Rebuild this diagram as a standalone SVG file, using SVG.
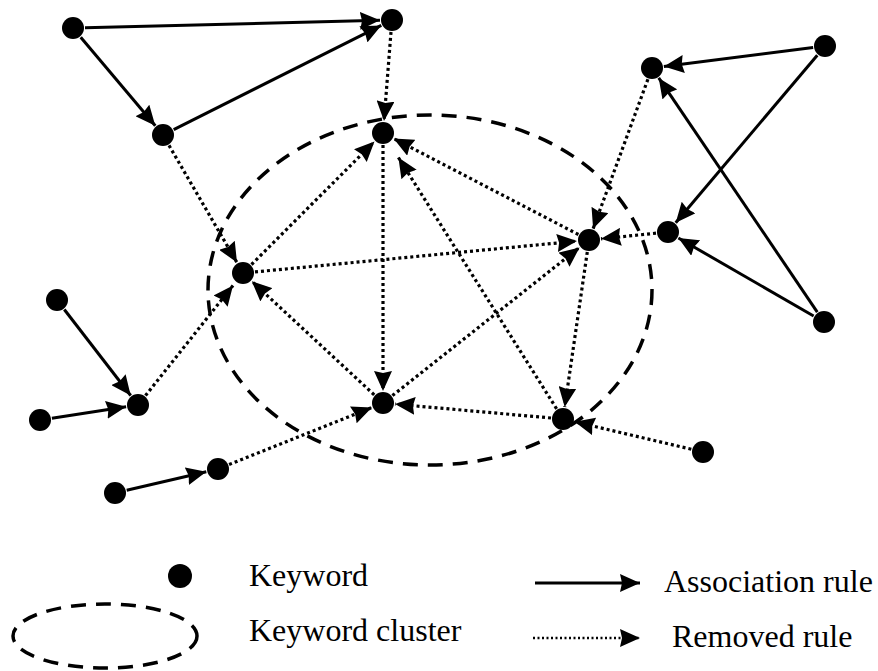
<svg xmlns="http://www.w3.org/2000/svg" width="878" height="671" viewBox="0 0 878 671">
<style>
.n{fill:#000}
.s{stroke:#000;stroke-width:3;fill:none;marker-end:url(#ah)}
.d{stroke:#000;stroke-width:3.2;stroke-dasharray:3 3;fill:none;marker-end:url(#ah)}
.cl{stroke:#000;stroke-width:3.5;stroke-dasharray:15 10;fill:none}
text{font-family:'Liberation Serif','Times New Roman',serif;font-size:32px;fill:#000}
</style>
<defs>
<marker id="ah" markerUnits="userSpaceOnUse" markerWidth="20" markerHeight="18" refX="20" refY="9" orient="auto">
<path d="M0,0 L20,9 L0,18 L2,9 z" fill="#000"/>
</marker>
</defs>
<ellipse id="cluster" class="cl" cx="430" cy="290" rx="222" ry="175"/>
<g id="connectors">
<line class="s" x1="85" y1="27.7" x2="380" y2="20.3"/>
<line class="s" x1="80.7" y1="37.2" x2="155.3" y2="125.8"/>
<line class="s" x1="173.7" y1="129.6" x2="381.3" y2="25.4"/>
<line class="s" x1="813.1" y1="47.5" x2="663.9" y2="66.5"/>
<line class="s" x1="817.3" y1="55.2" x2="675.7" y2="222.8"/>
<line class="s" x1="817.3" y1="312.1" x2="658.7" y2="77.9"/>
<line class="s" x1="813.6" y1="316" x2="678.4" y2="238"/>
<line class="s" x1="64.3" y1="309.5" x2="130.7" y2="395.5"/>
<line class="s" x1="51.9" y1="418.2" x2="126.1" y2="406.8"/>
<line class="s" x1="126.7" y1="490.3" x2="206.3" y2="471.7"/>
<line class="d" x1="391" y1="32" x2="384" y2="121"/>
<line class="d" x1="169" y1="145.4" x2="237" y2="262.6"/>
<line class="d" x1="251.5" y1="264.5" x2="374.5" y2="141.5"/>
<line class="d" x1="383" y1="145" x2="383" y2="391"/>
<line class="d" x1="578.4" y1="234.5" x2="393.6" y2="138.5"/>
<line class="d" x1="556.6" y1="408.8" x2="398.4" y2="157.5"/>
<line class="d" x1="255" y1="271.9" x2="577" y2="241.1"/>
<line class="d" x1="374.2" y1="394.8" x2="251.8" y2="281.2"/>
<line class="d" x1="145.5" y1="395.6" x2="233" y2="285.5"/>
<line class="d" x1="392.4" y1="395.6" x2="579.6" y2="247.4"/>
<line class="d" x1="551" y1="418" x2="395" y2="404.1"/>
<line class="d" x1="587.3" y1="251.9" x2="564.7" y2="407.1"/>
<line class="d" x1="656" y1="233.2" x2="601" y2="238.8"/>
<line class="d" x1="647.9" y1="79.3" x2="593.1" y2="228.7"/>
<line class="d" x1="691.3" y1="449.2" x2="574.7" y2="421.8"/>
<line class="d" x1="229.1" y1="464.5" x2="371.9" y2="407.5"/>
</g>
<g id="n1"><circle class="n" cx="73" cy="28" r="11"/></g>
<g id="n2"><circle class="n" cx="392" cy="20" r="11"/></g>
<g id="n3"><circle class="n" cx="163" cy="135" r="11"/></g>
<g id="n4"><circle class="n" cx="383" cy="133" r="11"/></g>
<g id="n5"><circle class="n" cx="652" cy="68" r="11"/></g>
<g id="n6"><circle class="n" cx="825" cy="46" r="11"/></g>
<g id="n7"><circle class="n" cx="589" cy="240" r="11"/></g>
<g id="n8"><circle class="n" cx="668" cy="232" r="11"/></g>
<g id="n9"><circle class="n" cx="243" cy="273" r="11"/></g>
<g id="n10"><circle class="n" cx="57" cy="300" r="11"/></g>
<g id="n11"><circle class="n" cx="824" cy="322" r="11"/></g>
<g id="n12"><circle class="n" cx="138" cy="405" r="11"/></g>
<g id="n13"><circle class="n" cx="40" cy="420" r="11"/></g>
<g id="n14"><circle class="n" cx="383" cy="403" r="11"/></g>
<g id="n15"><circle class="n" cx="563" cy="419" r="11"/></g>
<g id="n16"><circle class="n" cx="703" cy="452" r="11"/></g>
<g id="n17"><circle class="n" cx="218" cy="469" r="11"/></g>
<g id="n18"><circle class="n" cx="115" cy="493" r="11"/></g>
<g id="legend">
<circle class="n" cx="180" cy="576" r="12"/>
<text x="249" y="586">Keyword</text>
<ellipse class="cl" cx="105" cy="636" rx="92" ry="32"/>
<text x="249" y="641">Keyword cluster</text>
<line class="s" x1="535" y1="583" x2="640" y2="583"/>
<text x="664" y="592">Association rule</text>
<line x1="533" y1="638" x2="640" y2="638" stroke="#000" stroke-width="2.5" stroke-dasharray="2 2.5" marker-end="url(#ah)"/>
<text x="672" y="647">Removed rule</text>
</g>
</svg>
